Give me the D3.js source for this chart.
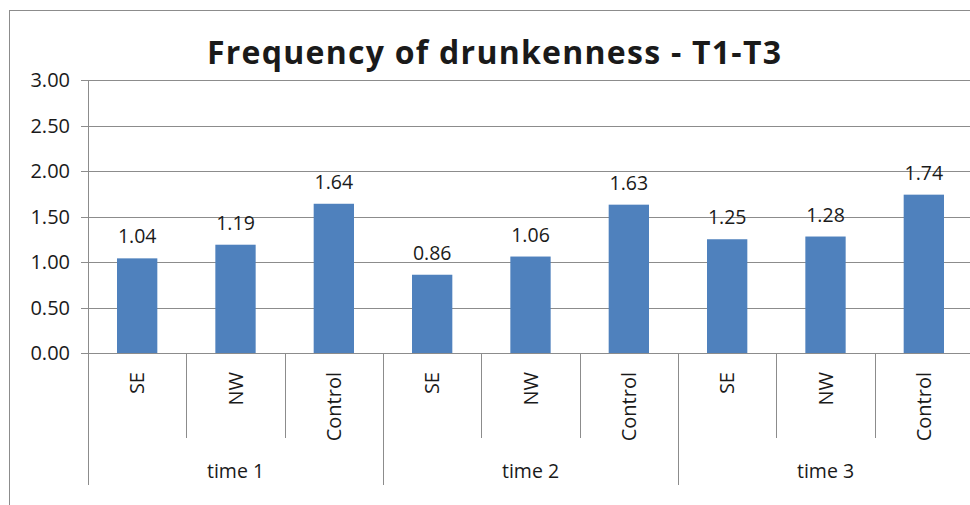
<!DOCTYPE html>
<html>
<head>
<meta charset="utf-8">
<script src="https://cdn.jsdelivr.net/npm/d3@7"></script>
<style>
  body { margin: 0; background: #fff; }
  svg { display: block; }
  text { font-family: "Open Sans", sans-serif; fill: #1a1a1a; }
</style>
</head>
<body>
<svg id="chart"></svg>
<script>
// chart data
const groups = ["time 1", "time 2", "time 3"];
const subgroups = ["SE", "NW", "Control"];
const values = [1.04, 1.19, 1.64, 0.86, 1.06, 1.63, 1.25, 1.28, 1.74];
const yTicks = [0, 0.5, 1, 1.5, 2, 2.5, 3];
const title = "Frequency of drunkenness - T1-T3";

const W = 970, H = 505;
const margin = { left: 88, top: 80, right: 973, bottom: 353 };

const data = [];
groups.forEach((g, gi) => subgroups.forEach((s, si) => {
    data.push({ key: g + "|" + s, group: g, sub: s, value: values[gi * subgroups.length + si] });
}));

const svg = d3.select("#chart").attr("width", W).attr("height", H);

// outer chart border
svg.append("rect")
    .attr("x", 9.5).attr("y", 10.5)
    .attr("width", W).attr("height", H)
    .attr("fill", "none").attr("stroke", "#8c8c8c");

const x = d3.scaleBand()
    .domain(data.map(d => d.key))
    .range([margin.left, margin.right])
    .padding(0);

const xg = d3.scaleBand()
    .domain(groups)
    .range([margin.left, margin.right])
    .padding(0);

const y = d3.scaleLinear()
    .domain([0, 3])
    .range([margin.bottom, margin.top]);

// gridlines
svg.append("g")
    .selectAll("line")
    .data(yTicks)
    .enter().append("line")
    .attr("x1", margin.left - 7).attr("x2", W)
    .attr("y1", d => Math.round(y(d)) + 0.5)
    .attr("y2", d => Math.round(y(d)) + 0.5)
    .attr("stroke", "#8c8c8c");

// y labels
svg.append("g")
    .selectAll("text")
    .data(yTicks)
    .enter().append("text")
    .attr("x", 70)
    .attr("y", d => y(d))
    .attr("dy", "0.36em")
    .attr("text-anchor", "end")
    .style("font-size", "20px")
    .text(d => d3.format(".2f")(d));

// bars
const barW = x.bandwidth() * 0.41;
svg.append("g")
    .selectAll("rect")
    .data(data)
    .enter().append("rect")
    .attr("x", d => x(d.key) + (x.bandwidth() - barW) / 2)
    .attr("y", d => y(d.value))
    .attr("width", barW)
    .attr("height", d => y(0) - y(d.value))
    .attr("fill", "#4f81bd");

// value labels
svg.append("g")
    .selectAll("text")
    .data(data)
    .enter().append("text")
    .attr("x", d => x(d.key) + x.bandwidth() / 2)
    .attr("y", d => y(d.value) - 15)
    .attr("text-anchor", "middle")
    .style("font-size", "19.5px")
    .text(d => d3.format(".2f")(d.value));

// y axis line
svg.append("line")
    .attr("x1", margin.left + 0.5).attr("x2", margin.left + 0.5)
    .attr("y1", margin.top).attr("y2", 485)
    .attr("stroke", "#8c8c8c");

// category separators
svg.append("g")
    .selectAll("line")
    .data(data.slice(1))
    .enter().append("line")
    .attr("x1", d => Math.round(x(d.key)) + 0.5)
    .attr("x2", d => Math.round(x(d.key)) + 0.5)
    .attr("y1", margin.bottom)
    .attr("y2", d => d.sub === subgroups[0] ? 485 : 438)
    .attr("stroke", "#8c8c8c");

// category labels (rotated)
svg.append("g")
    .selectAll("text")
    .data(data)
    .enter().append("text")
    .attr("transform", d => `translate(${x(d.key) + x.bandwidth() / 2},372) rotate(-90)`)
    .attr("dy", "0.36em")
    .attr("text-anchor", "end")
    .style("font-size", "20px")
    .text(d => d.sub);

// group labels
svg.append("g")
    .selectAll("text")
    .data(groups)
    .enter().append("text")
    .attr("x", d => xg(d) + xg.bandwidth() / 2)
    .attr("y", 478)
    .attr("text-anchor", "middle")
    .style("font-size", "19.5px")
    .text(d => d);

// title
svg.append("text")
    .attr("x", 494)
    .attr("y", 64)
    .attr("text-anchor", "middle")
    .attr("textLength", 574)
    .attr("lengthAdjust", "spacing")
    .style("font-size", "32px")
    .style("font-weight", "bold")
    .text(title);
</script>
</body>
</html>
